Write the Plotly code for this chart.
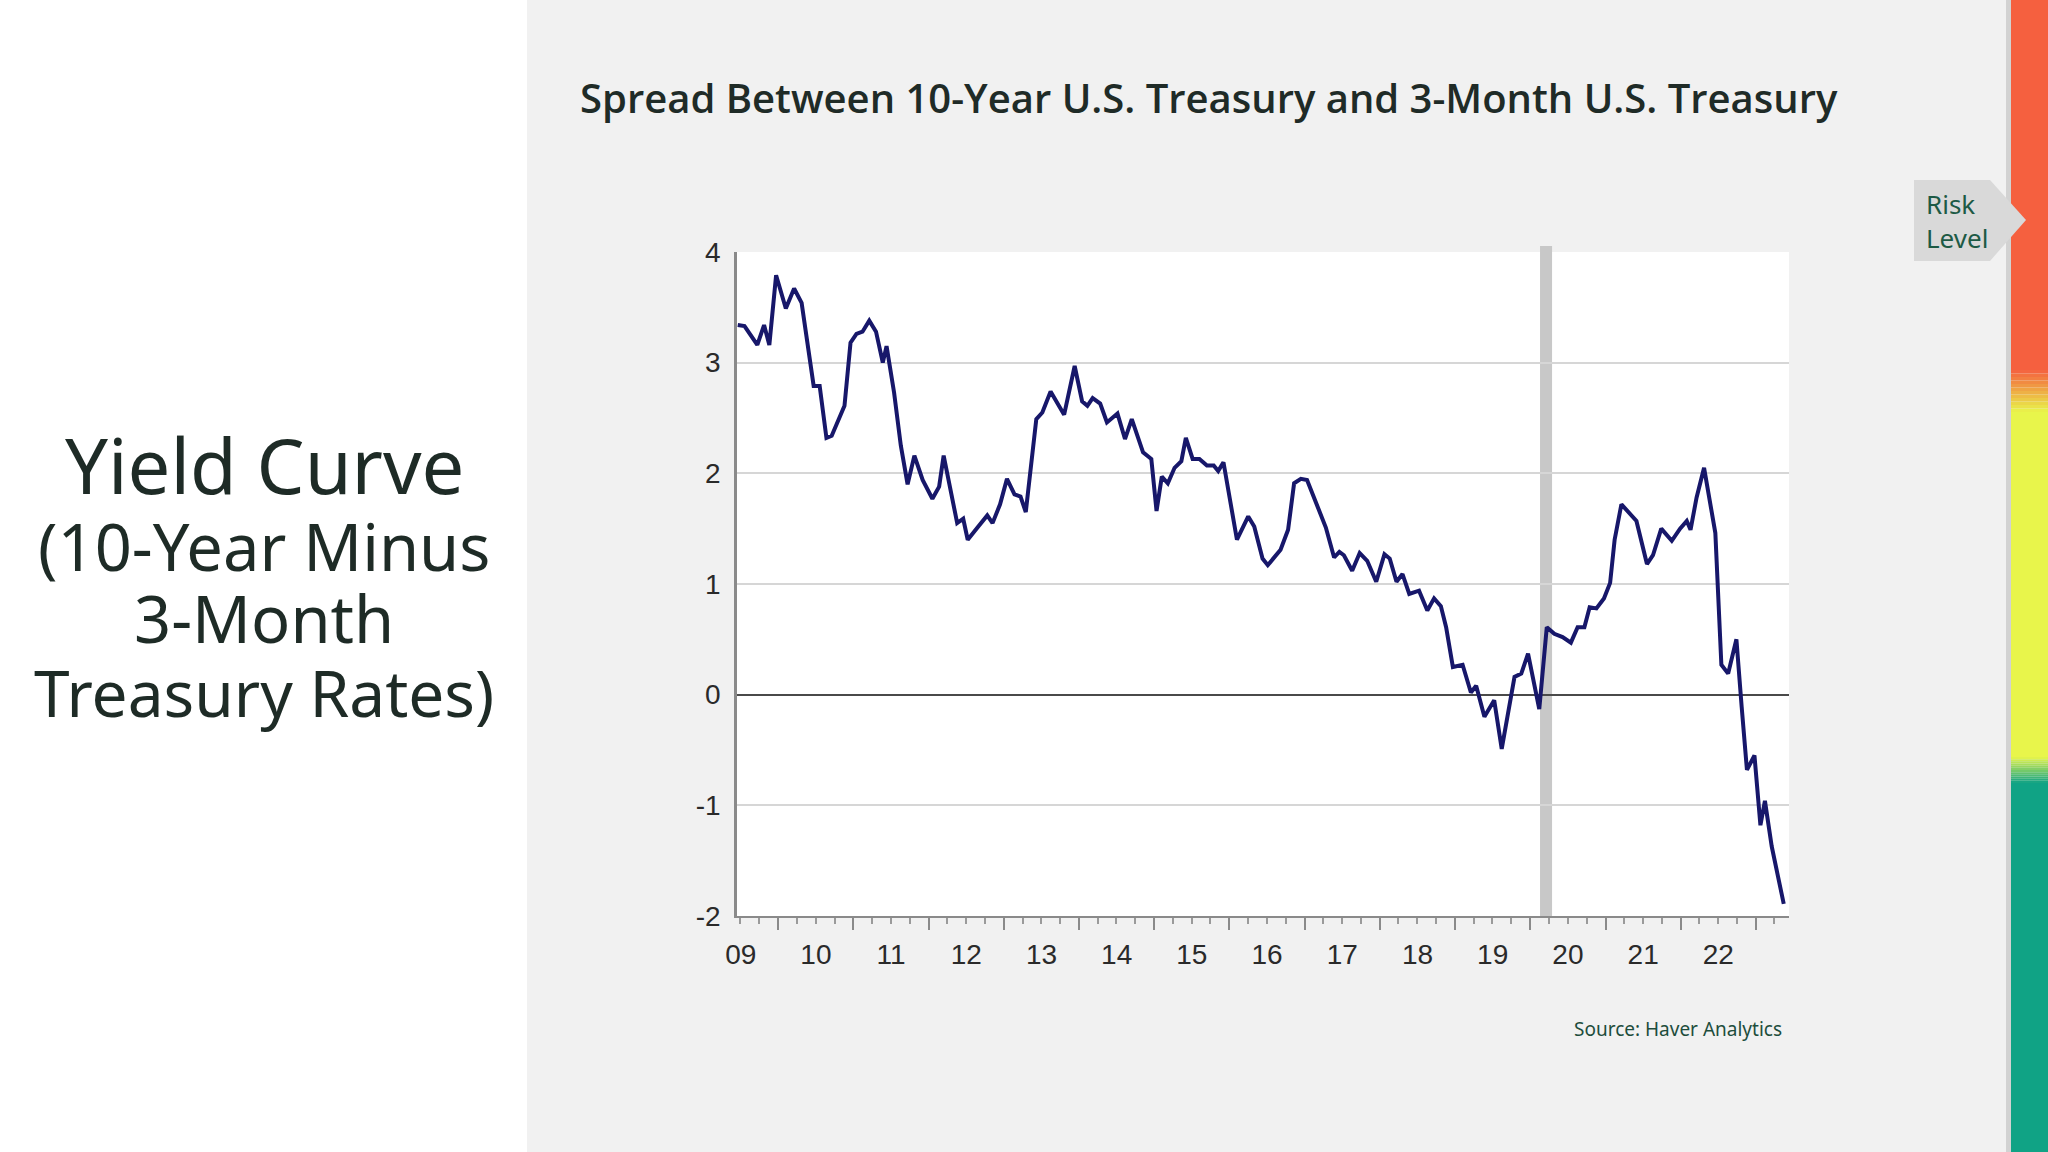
import plotly.graph_objects as go
import pandas as pd

# spread, x in decimal years
years = [2009.46, 2009.55, 2009.72, 2009.81, 2009.88, 2009.97, 2010.10, 2010.21, 2010.31, 2010.40,
         2010.47, 2010.55, 2010.64, 2010.71, 2010.88, 2010.96, 2011.04, 2011.12, 2011.21, 2011.30,
         2011.39, 2011.44, 2011.54, 2011.63, 2011.72, 2011.81, 2011.92, 2012.05, 2012.14, 2012.20,
         2012.38, 2012.46, 2012.52, 2012.65, 2012.78, 2012.85, 2012.95, 2013.04, 2013.14, 2013.22,
         2013.29, 2013.43, 2013.51, 2013.62, 2013.80, 2013.94, 2014.04, 2014.11, 2014.18, 2014.28,
         2014.37, 2014.51, 2014.61, 2014.70, 2014.85, 2014.96, 2015.03, 2015.10, 2015.18, 2015.27,
         2015.36, 2015.42, 2015.51, 2015.60, 2015.70, 2015.79, 2015.85, 2015.92, 2016.02, 2016.10,
         2016.25, 2016.33, 2016.44, 2016.51, 2016.68, 2016.78, 2016.86, 2016.95, 2017.03, 2017.14,
         2017.28, 2017.39, 2017.46, 2017.52, 2017.63, 2017.73, 2017.83, 2017.95, 2018.06, 2018.13,
         2018.22, 2018.30, 2018.39, 2018.52, 2018.63, 2018.72, 2018.81, 2018.88, 2018.97, 2019.10,
         2019.21, 2019.28, 2019.39, 2019.52, 2019.62, 2019.79, 2019.88, 2019.97, 2020.12, 2020.22,
         2020.32, 2020.43, 2020.54, 2020.63, 2020.72, 2020.79, 2020.88, 2020.98, 2021.06, 2021.12,
         2021.21, 2021.41, 2021.55, 2021.63, 2021.74, 2021.88, 2021.99, 2022.08, 2022.13, 2022.21,
         2022.31, 2022.46, 2022.54, 2022.63, 2022.74, 2022.81, 2022.88, 2022.98, 2023.06, 2023.12,
         2023.21, 2023.37]
spread = [3.34, 3.33, 3.16, 3.34, 3.16, 3.79, 3.49, 3.67, 3.54, 3.15,
          2.79, 2.79, 2.32, 2.34, 2.61, 3.18, 3.26, 3.28, 3.38, 3.28,
          3.00, 3.15, 2.73, 2.25, 1.90, 2.16, 1.94, 1.77, 1.88, 2.16,
          1.55, 1.59, 1.40, 1.51, 1.62, 1.55, 1.72, 1.95, 1.81, 1.79,
          1.65, 2.49, 2.55, 2.74, 2.53, 2.97, 2.65, 2.61, 2.68, 2.63,
          2.46, 2.54, 2.31, 2.49, 2.19, 2.13, 1.66, 1.97, 1.91, 2.05,
          2.11, 2.32, 2.13, 2.13, 2.07, 2.07, 2.02, 2.10, 1.70, 1.40,
          1.61, 1.52, 1.23, 1.17, 1.31, 1.49, 1.91, 1.95, 1.94, 1.76,
          1.51, 1.24, 1.29, 1.26, 1.12, 1.28, 1.21, 1.02, 1.27, 1.23,
          1.02, 1.09, 0.91, 0.94, 0.76, 0.87, 0.80, 0.61, 0.25, 0.27,
          0.02, 0.08, -0.20, -0.05, -0.49, 0.16, 0.19, 0.37, -0.13, 0.61,
          0.55, 0.52, 0.47, 0.61, 0.61, 0.79, 0.78, 0.87, 1.01, 1.40,
          1.72, 1.57, 1.18, 1.26, 1.50, 1.39, 1.50, 1.57, 1.49, 1.78,
          2.05, 1.46, 0.27, 0.19, 0.50, -0.11, -0.68, -0.55, -1.18, -0.96,
          -1.37, -1.89]

x_start, x_end = 2009.45, 2023.44
recession = [2020.13, 2020.29]
y_ticks = [-2, -1, 0, 1, 2, 3, 4]
y_labels = ["-2", "-1", "0", "1", "2", "3", "4"]

title = "Spread Between 10-Year U.S. Treasury and 3-Month U.S. Treasury"
side_title = ["Yield Curve", "(10-Year Minus", "3-Month", "Treasury Rates)"]
source = "Source: Haver Analytics"

W, H = 2048, 1152


def to_date(y):
    yr = int(y)
    return pd.Timestamp(year=yr, month=1, day=1) + pd.Timedelta(days=(y - yr) * 365.25)


def px(x):
    return x / W


def py(y):
    return 1 - y / H


dates = [to_date(y) for y in years]

fig = go.Figure()
fig.add_trace(go.Scatter(x=dates, y=spread, mode="lines",
                         line=dict(color="#17176a", width=4), hoverinfo="skip"))

shapes = []
# white left panel
shapes.append(dict(type="rect", xref="paper", yref="paper", x0=-0.02, x1=px(527), y0=-0.03, y1=1.03,
                   fillcolor="white", line_width=0, layer="below"))
# recession band
shapes.append(dict(type="rect", xref="x", yref="paper",
                   x0=to_date(recession[0]), x1=to_date(recession[1]),
                   y0=py(918), y1=py(246), fillcolor="#c8c8c8", line_width=0, layer="between"))

# risk strip on the right
shapes.append(dict(type="rect", xref="paper", yref="paper", x0=px(2006), x1=px(2011), y0=-0.03, y1=1.03,
                   fillcolor="#d2d2d2", line_width=0))


def mix(c1, c2, t):
    a = [int(c1[i:i + 2], 16) for i in (1, 3, 5)]
    b = [int(c2[i:i + 2], 16) for i in (1, 3, 5)]
    return "#%02x%02x%02x" % tuple(round(a[k] + (b[k] - a[k]) * t) for k in range(3))


red, yellow, green = "#f5603f", "#e8f54b", "#10a385"
bands = [(-40, 370, red, red), (370, 412, red, yellow), (412, 757, yellow, yellow),
         (757, 783, yellow, green), (783, H + 40, green, green)]
for top, bot, c1, c2 in bands:
    n = 1 if c1 == c2 else 12
    for i in range(n):
        t0 = top + (bot - top) * i / n
        t1 = top + (bot - top) * (i + 1) / n
        shapes.append(dict(type="rect", xref="paper", yref="paper", x0=px(2011), x1=1.02,
                           y0=py(t1), y1=py(t0), fillcolor=mix(c1, c2, (i + 0.5) / n),
                           line_width=0))

# risk level tag
tag = "M {} {} L {} {} L {} {} L {} {} L {} {} Z".format(
    px(1914), py(180), px(1990), py(180), px(2026), py(220), px(1990), py(261), px(1914), py(261))
shapes.append(dict(type="path", xref="paper", yref="paper", path=tag,
                   fillcolor="#d9d9d9", line_width=0))

annotations = [
    dict(text=title, x=px(1209), y=py(98), xref="paper", yref="paper", showarrow=False,
         xanchor="center", yanchor="middle",
         font=dict(family="Open Sans", size=40, color="#1f2b27", weight=600)),
    dict(text=source, x=px(1784), y=py(1029), xref="paper", yref="paper", showarrow=False,
         xanchor="right", yanchor="middle",
         font=dict(family="Noto Sans", size=19, color="#1d4d3c")),
    dict(text="Risk<br>Level", x=px(1924), y=py(221), xref="paper", yref="paper", showarrow=False,
         xanchor="left", yanchor="middle", align="left",
         font=dict(family="Noto Sans", size=26, color="#1d5a45")),
]
line_y = [464, 546, 618, 692]
line_size = [76, 65, 65, 64]
for txt, yy, sz in zip(side_title, line_y, line_size):
    annotations.append(dict(text=txt, x=px(264), y=py(yy), xref="paper", yref="paper",
                            showarrow=False, xanchor="center", yanchor="middle",
                            font=dict(family="Noto Sans", size=sz, color="#1e2b26")))

fig.update_layout(
    autosize=True, margin=dict(l=0, r=0, t=0, b=0, pad=0, autoexpand=False),
    paper_bgcolor="#f1f1f1", plot_bgcolor="white", showlegend=False,
    shapes=shapes, annotations=annotations,
    xaxis=dict(domain=[px(737), px(1789)], type="date", automargin=False,
               range=[to_date(x_start), to_date(x_end)],
               tick0="2009-01-01", dtick="M12", tickformat="%y", ticklabelmode="period",
               ticks="outside", ticklen=12, tickwidth=2, tickcolor="#8a8a8a",
               minor=dict(dtick="M3", ticks="outside", ticklen=6, tickwidth=1.5, tickcolor="#9a9a9a"),
               showline=True, linecolor="#8a8a8a", linewidth=2, showgrid=False,
               tickfont=dict(family="Liberation Sans", size=28, color="#2a2a2a")),
    yaxis=dict(domain=[py(916), py(252)], range=[-2, 4], tickvals=y_ticks, ticktext=y_labels,
               automargin=False,
               showline=True, linecolor="#8a8a8a", linewidth=2.5,
               gridcolor="#d6d6d6", gridwidth=1.5,
               zeroline=True, zerolinecolor="#4a4a4a", zerolinewidth=2,
               ticks="", ticklabelstandoff=8,
               tickfont=dict(family="Liberation Sans", size=28, color="#2a2a2a")),
)

fill_page = """
document.documentElement.style.margin = '0';
document.documentElement.style.overflow = 'hidden';
document.body.style.margin = '0';
document.body.style.overflow = 'hidden';
var gd = document.getElementById('{plot_id}');
gd.style.width = '100vw';
gd.style.height = '100vh';
Plotly.Plots.resize(gd);
"""

fig.write_html("out.html", config={"displayModeBar": False, "responsive": True},
               default_width="100vw", default_height="100vh", post_script=fill_page)
